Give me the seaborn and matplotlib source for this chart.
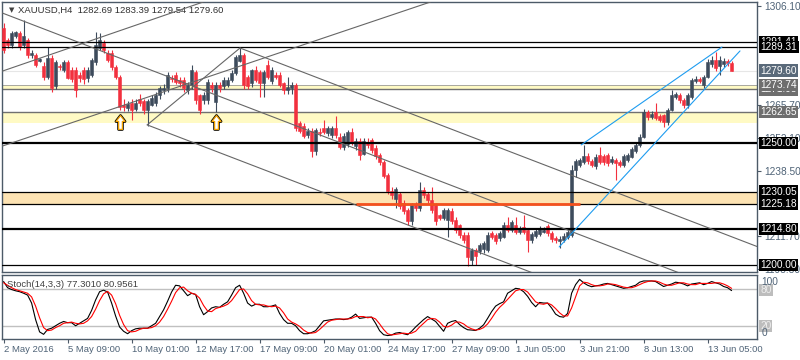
import numpy as np
import seaborn as sns
import matplotlib.pyplot as plt
import matplotlib.transforms as mtransforms
from matplotlib.path import Path

# ---- H4 candles (bar index 0 = 2 May 2016) ----
opens = [
    1297.0, 1292.0, 1290.0, 1294.0, 1295.0, 1290.0, 1292.0, 1286.0, 1286.0, 1283.5,
    1281.5, 1277.0, 1285.0, 1273.5, 1281.5, 1280.0, 1283.0, 1280.0, 1280.0, 1278.0,
    1280.0, 1276.5, 1278.0, 1283.0, 1289.0, 1291.0, 1287.0, 1287.0, 1281.0, 1277.0,
    1265.5, 1264.5, 1266.5, 1264.0, 1268.0, 1267.0, 1263.5, 1265.5, 1266.5, 1269.6,
    1271.7, 1272.5, 1276.8, 1277.8, 1275.8, 1275.8, 1271.7, 1273.7, 1279.0, 1269.6,
    1267.6, 1267.6, 1273.7, 1266.8, 1273.7, 1273.3, 1273.7, 1275.8, 1278.6, 1283.6,
    1286.0, 1277.0, 1274.5, 1280.0, 1279.0, 1274.6, 1282.0, 1275.4, 1278.0, 1277.8,
    1274.5, 1271.7, 1272.5, 1273.7, 1258.0, 1257.0, 1253.3, 1255.0, 1246.7, 1254.5,
    1256.0, 1254.0, 1253.3, 1256.3, 1252.6, 1248.5, 1249.4, 1254.5, 1248.6, 1251.0,
    1245.5, 1250.4, 1251.2, 1248.0, 1245.0, 1242.3, 1236.9, 1230.3, 1227.0, 1229.0,
    1225.5, 1222.5, 1218.0, 1224.6, 1223.4, 1230.7, 1229.0, 1226.6, 1224.6, 1220.5,
    1219.3, 1218.4, 1222.0, 1218.4, 1216.4, 1212.3, 1212.3, 1202.1, 1206.2, 1205.8,
    1206.5, 1206.2, 1213.1, 1212.3, 1211.0, 1211.5, 1216.4, 1214.3, 1216.4, 1213.5,
    1215.5, 1214.3, 1210.2, 1211.7, 1212.8, 1213.7, 1216.0, 1213.0, 1211.0, 1210.0,
    1210.3, 1211.5, 1212.3, 1238.9, 1241.0, 1242.3, 1244.7, 1242.5, 1240.5, 1245.1,
    1244.5, 1245.1, 1242.3, 1243.0, 1242.0, 1241.0, 1243.0, 1244.3, 1246.7, 1249.2,
    1252.5, 1262.7, 1260.6, 1262.7, 1261.0, 1261.4, 1258.5, 1263.5, 1269.0, 1269.6,
    1267.6, 1265.5, 1269.0, 1275.4, 1276.2, 1273.7, 1277.0, 1282.3, 1284.0, 1281.5,
    1282.3, 1283.6, 1282.69,
]
highs = [
    1299.0, 1293.0, 1296.0, 1296.0, 1296.0, 1300.4, 1293.0, 1288.0, 1287.0, 1285.0,
    1283.0, 1289.5, 1286.0, 1284.0, 1282.5, 1284.0, 1284.0, 1281.0, 1281.0, 1279.0,
    1281.0, 1281.0, 1285.0, 1295.3, 1295.0, 1292.0, 1288.0, 1288.0, 1282.0, 1278.0,
    1268.0, 1267.0, 1268.0, 1268.0, 1270.0, 1268.0, 1268.0, 1269.5, 1271.0, 1273.5,
    1274.0, 1279.0, 1278.0, 1279.0, 1277.0, 1277.0, 1275.0, 1282.0, 1280.0, 1270.0,
    1271.0, 1276.0, 1275.0, 1275.0, 1275.0, 1277.0, 1277.0, 1280.0, 1286.0, 1289.0,
    1287.0, 1278.0, 1280.5, 1281.5, 1280.0, 1280.0, 1284.0, 1281.0, 1279.0, 1279.0,
    1275.0, 1277.0, 1275.0, 1274.5, 1259.0, 1258.0, 1256.0, 1256.0, 1256.0, 1256.0,
    1259.4, 1257.0, 1257.0, 1261.0, 1254.0, 1254.0, 1255.5, 1256.0, 1252.0, 1252.0,
    1252.0, 1252.0, 1252.0, 1249.0, 1246.0, 1243.0, 1237.5, 1232.0, 1232.0, 1230.0,
    1226.5, 1223.5, 1225.5, 1226.0, 1234.0, 1232.0, 1230.0, 1232.0, 1225.5, 1221.0,
    1223.5, 1223.5, 1223.5, 1219.5, 1217.0, 1213.5, 1213.5, 1207.0, 1207.0, 1209.0,
    1210.0, 1213.5, 1214.0, 1213.0, 1214.0, 1217.5, 1219.5, 1218.5, 1219.5, 1216.0,
    1220.5, 1215.0, 1213.5, 1215.0, 1216.0, 1215.5, 1217.0, 1214.0, 1212.0, 1212.0,
    1213.0, 1214.5, 1241.0, 1243.5, 1244.0, 1249.2, 1246.0, 1243.5, 1245.5, 1248.3,
    1245.5, 1246.0, 1244.5, 1244.0, 1243.0, 1245.5, 1246.0, 1248.5, 1250.5, 1253.5,
    1264.0, 1263.5, 1263.0, 1266.3, 1262.0, 1262.0, 1264.5, 1271.7, 1271.0, 1270.5,
    1268.5, 1270.5, 1276.8, 1277.5, 1277.0, 1278.0, 1284.5, 1285.5, 1287.3, 1285.5,
    1285.0, 1284.5, 1283.39,
]
lows = [
    1287.0, 1289.0, 1289.0, 1293.0, 1288.0, 1289.0, 1285.0, 1285.0, 1281.0, 1283.0,
    1275.8, 1276.0, 1271.0, 1272.0, 1280.0, 1279.0, 1276.0, 1275.0, 1269.0, 1275.0,
    1274.0, 1275.0, 1277.0, 1282.0, 1288.0, 1287.0, 1283.0, 1280.0, 1276.0, 1263.5,
    1263.0, 1263.0, 1259.4, 1263.0, 1265.0, 1262.0, 1257.0, 1265.0, 1265.0, 1268.0,
    1270.0, 1271.0, 1275.0, 1274.0, 1273.0, 1271.0, 1270.0, 1272.0, 1266.0, 1262.0,
    1266.0, 1266.0, 1271.0, 1262.7, 1271.0, 1272.0, 1273.0, 1275.0, 1278.0, 1283.0,
    1272.0, 1272.0, 1273.0, 1275.0, 1269.0, 1269.0, 1276.0, 1274.0, 1276.0, 1273.0,
    1270.0, 1270.0, 1270.0, 1255.0, 1254.0, 1252.0, 1252.0, 1244.3, 1245.0, 1253.0,
    1253.5, 1253.0, 1252.0, 1252.0, 1247.5, 1247.0, 1248.5, 1249.0, 1247.0, 1243.0,
    1245.0, 1248.0, 1246.0, 1243.5, 1241.0, 1235.5, 1229.0, 1227.0, 1223.4, 1223.0,
    1221.0, 1216.4, 1216.5, 1222.0, 1222.0, 1227.5, 1225.5, 1221.5, 1216.4, 1218.4,
    1218.4, 1211.5, 1217.0, 1213.0, 1211.0, 1209.0, 1199.6, 1200.0, 1200.0, 1204.5,
    1205.0, 1205.5, 1210.5, 1208.5, 1210.0, 1211.0, 1213.5, 1213.5, 1212.5, 1212.5,
    1212.5, 1205.4, 1209.0, 1211.0, 1212.0, 1213.0, 1212.0, 1209.5, 1209.0, 1207.0,
    1209.5, 1210.5, 1211.5, 1236.0, 1240.0, 1241.5, 1241.5, 1240.0, 1239.5, 1241.5,
    1241.0, 1240.5, 1241.5, 1234.8, 1240.0, 1240.0, 1242.0, 1244.0, 1246.0, 1248.5,
    1252.0, 1259.5, 1260.0, 1259.5, 1258.5, 1256.5, 1257.5, 1263.0, 1268.0, 1266.5,
    1264.5, 1264.5, 1268.0, 1274.5, 1274.5, 1272.5, 1276.5, 1281.0, 1279.5, 1277.8,
    1281.0, 1281.5, 1279.54,
]
closes = [
    1288.0, 1290.0, 1295.0, 1295.5, 1289.5, 1294.0, 1286.0, 1286.7, 1282.0, 1284.5,
    1277.0, 1285.0, 1272.5, 1283.0, 1281.0, 1283.0, 1276.5, 1276.0, 1271.7, 1276.5,
    1276.0, 1280.0, 1284.0, 1290.0, 1292.0, 1288.0, 1284.0, 1281.0, 1277.0, 1264.8,
    1264.6, 1266.0, 1263.5, 1266.5, 1266.5, 1263.5, 1267.0, 1268.5, 1269.6, 1272.5,
    1272.5, 1277.8, 1276.0, 1275.0, 1274.5, 1272.5, 1273.7, 1279.9, 1267.6, 1263.5,
    1269.6, 1275.0, 1272.5, 1273.7, 1272.5, 1275.8, 1275.8, 1278.6, 1285.2, 1286.0,
    1273.7, 1273.3, 1280.0, 1275.8, 1274.6, 1279.0, 1277.0, 1280.0, 1277.0, 1273.7,
    1271.7, 1273.0, 1273.7, 1256.3, 1255.0, 1253.0, 1255.0, 1246.7, 1255.3, 1254.0,
    1254.5, 1256.0, 1256.3, 1253.3, 1248.5, 1253.0, 1254.5, 1250.0, 1251.0, 1245.1,
    1251.0, 1249.0, 1247.1, 1244.7, 1242.0, 1236.5, 1230.3, 1228.5, 1231.0, 1224.2,
    1222.0, 1218.0, 1224.6, 1223.4, 1230.7, 1228.7, 1226.6, 1222.5, 1218.0, 1219.3,
    1222.5, 1222.5, 1218.0, 1214.3, 1212.3, 1210.2, 1203.3, 1206.2, 1203.7, 1208.2,
    1209.0, 1212.3, 1211.5, 1210.0, 1213.0, 1216.4, 1214.3, 1217.6, 1213.5, 1215.0,
    1213.5, 1210.2, 1212.5, 1214.0, 1215.0, 1214.3, 1213.0, 1210.5, 1210.2, 1210.8,
    1211.8, 1213.5, 1238.9, 1242.5, 1243.0, 1244.7, 1242.5, 1241.0, 1244.3, 1242.3,
    1242.3, 1241.9, 1243.3, 1241.9, 1241.0, 1244.5, 1245.1, 1247.5, 1249.2, 1252.5,
    1262.7, 1260.6, 1261.8, 1260.2, 1259.4, 1258.5, 1263.5, 1269.6, 1270.2, 1267.6,
    1265.5, 1269.6, 1275.8, 1276.2, 1275.4, 1277.0, 1283.2, 1284.0, 1280.7, 1284.0,
    1283.6, 1282.7, 1279.60,
]

# ---- Stochastic(14,3,3) ----
stoch_k = [
    92, 82, 79, 77, 75.5, 73, 70, 57, 30, 10,
    6, 14, 16, 20, 24, 27, 25, 25, 20, 24,
    28, 32, 45, 62, 75.5, 78, 75, 57, 36, 18,
    11, 7, 12, 15, 16, 16, 16, 20, 24, 35,
    46, 60, 75, 86, 85, 77, 69, 73, 71, 51,
    38, 43, 49, 51, 50, 55, 59, 70, 82, 86,
    73, 57, 52, 55, 55, 51, 51, 52, 54, 40,
    30, 24, 24, 20, 12, 7, 7, 9, 12, 20,
    28, 29, 30, 31, 31, 30, 31, 34, 39, 32,
    33, 34, 34, 24, 12, 5.4, 4, 5, 8, 9,
    7, 5.4, 11, 18, 24, 30, 35, 31, 27, 19,
    11, 24, 27, 28.5, 22, 17, 13.5, 13, 12.3, 16,
    21.6, 32, 43, 52, 56, 59, 73, 77, 81, 80,
    75.5, 68, 58, 51, 58, 57, 57, 49, 39, 35,
    34, 40, 73, 87, 95.6, 90, 86, 83.6, 85, 86,
    88, 89, 87, 85, 83, 81, 82, 84, 86, 91,
    93, 93, 93, 92, 88, 84, 86, 88, 91, 90,
    88, 85, 88, 89, 90, 87, 89, 92, 90, 88,
    84, 82, 77.301,
]
stoch_d = [
    90, 86, 82, 79, 77, 75, 73, 67, 52, 33,
    17, 12, 13, 17, 20, 24, 25, 26, 24, 23,
    24, 28, 35, 47, 61, 72, 76, 70, 56, 37,
    22, 12, 10, 11, 14, 16, 16, 17, 20, 26,
    35, 47, 60, 74, 82, 83, 77, 73, 71, 65,
    53, 44, 43, 48, 50, 52, 55, 61, 70, 79,
    80, 72, 61, 55, 54, 54, 52, 51, 52, 49,
    41, 31, 26, 23, 19, 13, 9, 8, 9, 14,
    20, 26, 29, 30, 31, 31, 31, 32, 35, 35,
    35, 33, 34, 31, 23, 14, 7, 5, 6, 7,
    8, 7, 8, 11, 18, 24, 30, 32, 31, 26,
    19, 18, 21, 26, 26, 23, 18, 15, 13, 14,
    17, 23, 32, 42, 50, 56, 63, 70, 77, 79,
    79, 75, 67, 59, 56, 55, 57, 54, 48, 41,
    36, 36, 49, 67, 85, 91, 90, 87, 85, 85,
    86, 88, 88, 87, 85, 83, 82, 82, 84, 87,
    90, 92, 93, 93, 91, 88, 86, 86, 88, 90,
    90, 88, 87, 87, 89, 89, 89, 89, 90, 90,
    88, 85, 80.956,
]

# ---- time axis labels (every 16 bars) ----
time_ticks = [0, 16, 32, 48, 64, 80, 96, 112, 128, 144, 160, 176]
time_labels = ["2 May 2016", "5 May 09:00", "10 May 01:00", "12 May 17:00",
               "17 May 09:00", "20 May 01:00", "24 May 17:00", "27 May 09:00",
               "1 Jun 05:00", "3 Jun 21:00", "8 Jun 13:00", "13 Jun 05:00"]

# ---- chart objects ----
thin_levels = [1291.41, 1289.31, 1230.05, 1225.18, 1200.00]
thick_levels = [1250.00, 1214.80]
yellow_bands = [(1271.95, 1273.74), (1258.30, 1262.65)]
orange_band = (1225.18, 1230.05)
orange_seg = (88, 144, 1225.0)
price_ticks = [1306.10, 1265.70, 1252.10, 1238.50, 1211.70, 1198.30]
box_labels = [(1291.41, "black"), (1289.31, "black"), (1279.60, "#5a6a7a"),
              (1271.95, "#6e6e6e"), (1273.74, "#6e6e6e"), (1262.65, "#6e6e6e"),
              (1250.00, "black"), (1230.05, "black"), (1225.18, "black"),
              (1214.80, "black"), (1200.00, "black")]
# Andrews pitchfork anchors (bar, price)
pf_x = [-0.9, 35.9, 59.1]
pf_y = [1303.6, 1257.4, 1288.9]
# rising grey lines (two points each)
rise_lines = [((-0.9, 1248.4), (105.9, 1307.3)), ((-0.9, 1279.1), (49.1, 1307.3))]
# blue wedge
blue_lines = [((138.9, 1207.4), (184.1, 1287.7)), ((144.4, 1249.2), (179.6, 1289.3))]
arrow_bars = [29, 53]
arrow_price = [1258.6, 1258.6]

BULL = "#3d4b5c"
BEAR = "#f2303e"
FRAME = "#4c5a68"
TXT = "#4f6377"
FS = 6.8
FS_AX = 7.3

sns.set_style("white")
plt.rcParams['font.family'] = ['Liberation Sans', 'DejaVu Sans']

o = np.array(opens); h = np.array(highs); l = np.array(lows); c = np.array(closes)
idx = np.arange(len(c))

fig = plt.figure(figsize=(8, 3.6), dpi=100)
ax = fig.add_axes([0.0025, 0.2444, 0.944, 0.75])
ax2 = fig.add_axes([0.0025, 0.0583, 0.944, 0.1778], sharex=ax)

# bands
for lo, hi in yellow_bands:
    ax.axhspan(lo, hi, color="#fffac4", zorder=0.5, lw=0)
ax.axhline(yellow_bands[0][1], color="#9a9a9a", lw=0.6, zorder=1)
ax.axhline(yellow_bands[0][0], color="#707070", lw=1.0, zorder=1)
ax.axhline(yellow_bands[1][1], color="#707070", lw=1.0, zorder=1)
ax.axhspan(orange_band[0], orange_band[1], color="#fde3b3", zorder=0.5, lw=0)
ax.axhline(1279.60, color="#e6e6e6", lw=0.8, zorder=0.8)

# candles
up = c >= o
cols = np.where(up, BULL, BEAR)
ax.vlines(idx, l, h, colors=cols, lw=0.8, zorder=3)
ax.bar(idx, c - o, bottom=o, width=0.72, color=cols, edgecolor=cols, linewidth=0.4, zorder=3)

# horizontal levels
for lv in thin_levels:
    ax.axhline(lv, color="black", lw=0.9, zorder=4)
for lv in thick_levels:
    ax.axhline(lv, color="black", lw=1.6, zorder=4)
ax.plot([orange_seg[0], orange_seg[1]], [orange_seg[2], orange_seg[2]],
        color="#f4511e", lw=2.0, zorder=5, solid_capstyle="butt")

# pitchfork
mid_x = (pf_x[1] + pf_x[2]) / 2
mid_y = (pf_y[1] + pf_y[2]) / 2
slope = (mid_y - pf_y[0]) / (mid_x - pf_x[0])
for x0, y0 in zip(pf_x, pf_y):
    ax.plot([x0, 200], [y0, y0 + slope * (200 - x0)], color="#666666", lw=0.8, zorder=4)
ax.plot(pf_x[1:], pf_y[1:], color="#666666", lw=0.8, zorder=4)
for p1, p2 in rise_lines:
    ax.axline(p1, p2, color="#666666", lw=0.8, zorder=4)
for p1, p2 in blue_lines:
    ax.plot([p1[0], p2[0]], [p1[1], p2[1]], color="#1e9cf0", lw=0.8, zorder=4)

# arrows
arrow = Path([(0, 1), (-0.65, 0.15), (-0.27, 0.15), (-0.27, -1), (0.27, -1),
              (0.27, 0.15), (0.65, 0.15), (0, 1)],
             [Path.MOVETO] + [Path.LINETO] * 6 + [Path.CLOSEPOLY])
ax.plot(arrow_bars, arrow_price, ls="none", marker=arrow, ms=10, mfc="white",
        mec="black", mew=2.0, zorder=6)
ax.plot(arrow_bars, arrow_price, ls="none", marker=arrow, ms=10, mfc="white",
        mec="#f0a000", mew=0.9, zorder=6)

ax.set_xlim(-0.4, 188.4)
ax.set_ylim(1197.13, 1307.74)
ax.yaxis.tick_right()
ax.set_yticks(price_ticks)
ax.set_yticklabels([f"{v:.2f}" for v in price_ticks])
ax.tick_params(axis="y", direction="out", length=3, color=FRAME, labelsize=FS_AX,
               labelcolor=TXT, pad=2, right=True, left=False)
ax.tick_params(axis="x", bottom=False, labelbottom=False)
for s in ax.spines.values():
    s.set_color(FRAME); s.set_linewidth(1)

bt = mtransforms.blended_transform_factory(ax.transAxes, ax.transData)
for val, fc in box_labels:
    ax.text(1.0045, val, f"{val:.2f}", transform=bt, ha="left", va="center", fontsize=FS_AX,
            color="white", clip_on=False, zorder=10,
            bbox=dict(boxstyle="square,pad=0.12", fc=fc, ec="none"))

ax.text(0.009, 0.970, "\u25bc", transform=ax.transAxes, fontsize=5, color="#404040",
        va="center", ha="left", family="DejaVu Sans")
ax.text(0.021, 0.970, "XAUUSD,H4  1282.69 1283.39 1279.54 1279.60", transform=ax.transAxes,
        fontsize=FS, color="#303030", va="center", ha="left")

# stochastic panel
ax2.axhline(80, color="#c0c0c0", lw=1, zorder=1)
ax2.axhline(20, color="#c0c0c0", lw=1, zorder=1)
sns.lineplot(x=idx, y=stoch_k, color="black", lw=0.8, ax=ax2, zorder=3)
sns.lineplot(x=idx, y=stoch_d, color="red", lw=0.8, ax=ax2, zorder=3)
ax2.set_ylim(-1.6, 102.7)
ax2.set_yticks([])
ax2.set_ylabel("")
ax2.text(0.0066, 0.855, "Stoch(14,3,3) 77.3010 80.9561", transform=ax2.transAxes,
         fontsize=FS, color="#404040", va="center", ha="left")
bt2 = mtransforms.blended_transform_factory(ax2.transAxes, ax2.transData)
for val, pos in [(80, 78), (20, 20)]:
    ax2.text(1.004, pos, str(val), transform=bt2, ha="left", va="center", fontsize=FS_AX,
             color="#eeeeee", clip_on=False, zorder=9,
             bbox=dict(boxstyle="square,pad=0.1", fc="#bdbdbd", ec="none"))
ax2.text(1.006, 91, "100", transform=bt2, ha="left", va="center", fontsize=FS_AX,
         color=TXT, clip_on=False, zorder=10)
ax2.text(1.006, 8, "0", transform=bt2, ha="left", va="center", fontsize=FS_AX,
         color=TXT, clip_on=False, zorder=10)

ax2.set_xticks(time_ticks)
ax2.set_xticklabels(time_labels)
for lab in ax2.get_xticklabels():
    lab.set_ha("left")
ax2.tick_params(axis="x", direction="out", length=3, color=FRAME, labelsize=FS,
                labelcolor=TXT, pad=1.5, bottom=True)
for s in ax2.spines.values():
    s.set_color(FRAME); s.set_linewidth(1)

fig.savefig("out.png", dpi=100)
